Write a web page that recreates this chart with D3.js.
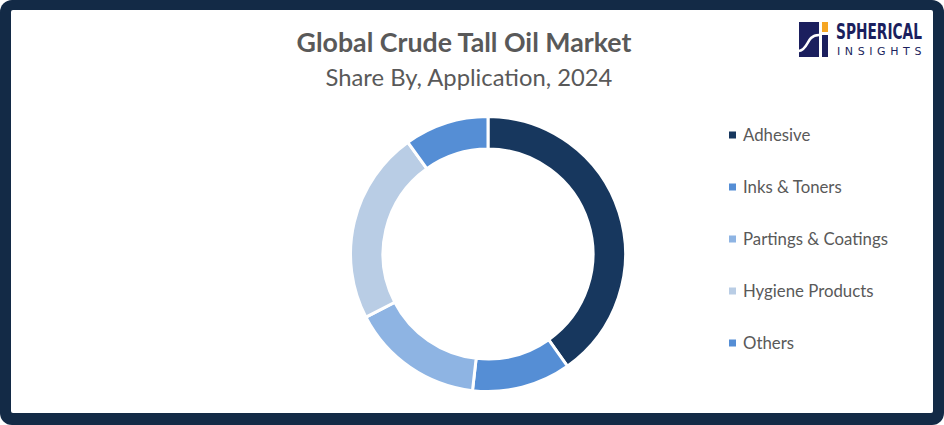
<!DOCTYPE html>
<html>
<head>
<meta charset="utf-8">
<script src="https://cdn.jsdelivr.net/npm/d3@7"></script>
<style>
  html, body { margin: 0; padding: 0; background: #fff; }
  svg { display: block; }
</style>
</head>
<body>
<svg></svg>
<script>
var width = 944;
var height = 425;

// data
var categories = ["Adhesive", "Inks & Toners", "Partings & Coatings", "Hygiene Products", "Others"];
var shares = [40.2, 11.6, 15.6, 22.7, 9.9];
var colors = ["#17375E", "#558ED5", "#8EB4E3", "#B9CDE5", "#558ED5"];

var data = categories.map((c, i) => ({ name: c, value: shares[i], color: colors[i] }));

var svg = d3.select("svg")
              .attr("width", width)
              .attr("height", height);

// dark frame
svg.append("rect")
    .attr("x", 0).attr("y", 0)
    .attr("width", width).attr("height", height)
    .attr("rx", 12)
    .attr("fill", "#132A46");

svg.append("rect")
    .attr("x", 11).attr("y", 10)
    .attr("width", width - 22).attr("height", height - 22)
    .attr("rx", 2)
    .attr("fill", "#ffffff");

// titles
function fitText(sel, target) {
  var w = sel.node().getComputedTextLength();
  var fs = parseFloat(sel.attr("font-size"));
  sel.attr("font-size", fs * target / w);
}

var title = svg.append("text")
    .attr("x", 464).attr("y", 52)
    .attr("text-anchor", "middle")
    .attr("font-family", "Lato, 'Open Sans', sans-serif")
    .attr("font-weight", "bold")
    .attr("font-size", 22)
    .attr("fill", "#595959")
    .text("Global Crude Tall Oil Market");
fitText(title, 335);

var subtitle = svg.append("text")
    .attr("x", 469).attr("y", 86)
    .attr("text-anchor", "middle")
    .attr("font-family", "Lato, 'Open Sans', sans-serif")
    .attr("font-size", 20)
    .attr("fill", "#595959")
    .text("Share By, Application, 2024");
fitText(subtitle, 287);

// donut
var cx = 488, cy = 254;
var pie = d3.pie().sort(null).value(d => d.value);
var arc = d3.arc().innerRadius(105).outerRadius(137.5);

svg.append("g")
    .attr("transform", "translate(" + cx + "," + cy + ")")
  .selectAll("path")
  .data(pie(data))
  .enter()
  .append("path")
    .attr("d", arc)
    .attr("fill", d => d.data.color)
    .attr("stroke", "#ffffff")
    .attr("stroke-width", 3);

// legend
var legend = svg.append("g")
    .selectAll("g")
    .data(data)
    .enter()
    .append("g")
      .attr("transform", (d, i) => "translate(729," + (135 + i * 52) + ")");

legend.append("rect")
    .attr("x", 0).attr("y", -3.5)
    .attr("width", 7).attr("height", 7)
    .attr("fill", d => d.color);

legend.append("text")
    .attr("x", 14).attr("y", 6)
    .attr("font-family", "Lato, 'Open Sans', sans-serif")
    .attr("font-size", 16.8)
    .attr("fill", "#595959")
    .text(d => d.name);

// logo
var logo = svg.append("g");
logo.append("rect")
    .attr("x", 799).attr("y", 22)
    .attr("width", 20).attr("height", 35)
    .attr("fill", "#1B1F5E");
logo.append("path")
    .attr("d", "M799,51 C806,50 807,42 811,38 C814,35 816,35 819,35")
    .attr("fill", "none")
    .attr("stroke", "#ffffff")
    .attr("stroke-width", 2.5);
logo.append("rect")
    .attr("x", 822).attr("y", 22)
    .attr("width", 6).attr("height", 10)
    .attr("fill", "#F5A623");
logo.append("rect")
    .attr("x", 822).attr("y", 35)
    .attr("width", 6).attr("height", 22)
    .attr("fill", "#1B1F5E");

var brand = logo.append("text")
    .attr("x", 0).attr("y", 0)
    .attr("font-family", "'DejaVu Sans Condensed', 'Liberation Sans Narrow', sans-serif")
    .attr("font-weight", "bold")
    .attr("font-size", 22)
    .attr("fill", "#1B1F5E")
    .text("SPHERICAL");
var bw = brand.node().getComputedTextLength();
brand.attr("transform", "translate(836,39) scale(" + (86 / bw) + ",1)");

logo.append("text")
    .attr("x", 837).attr("y", 55)
    .attr("font-family", "'DejaVu Sans', sans-serif")
    .attr("font-size", 11)
    .attr("letter-spacing", 4.6)
    .attr("fill", "#1B1F5E")
    .text("INSIGHTS");
</script>
</body>
</html>
